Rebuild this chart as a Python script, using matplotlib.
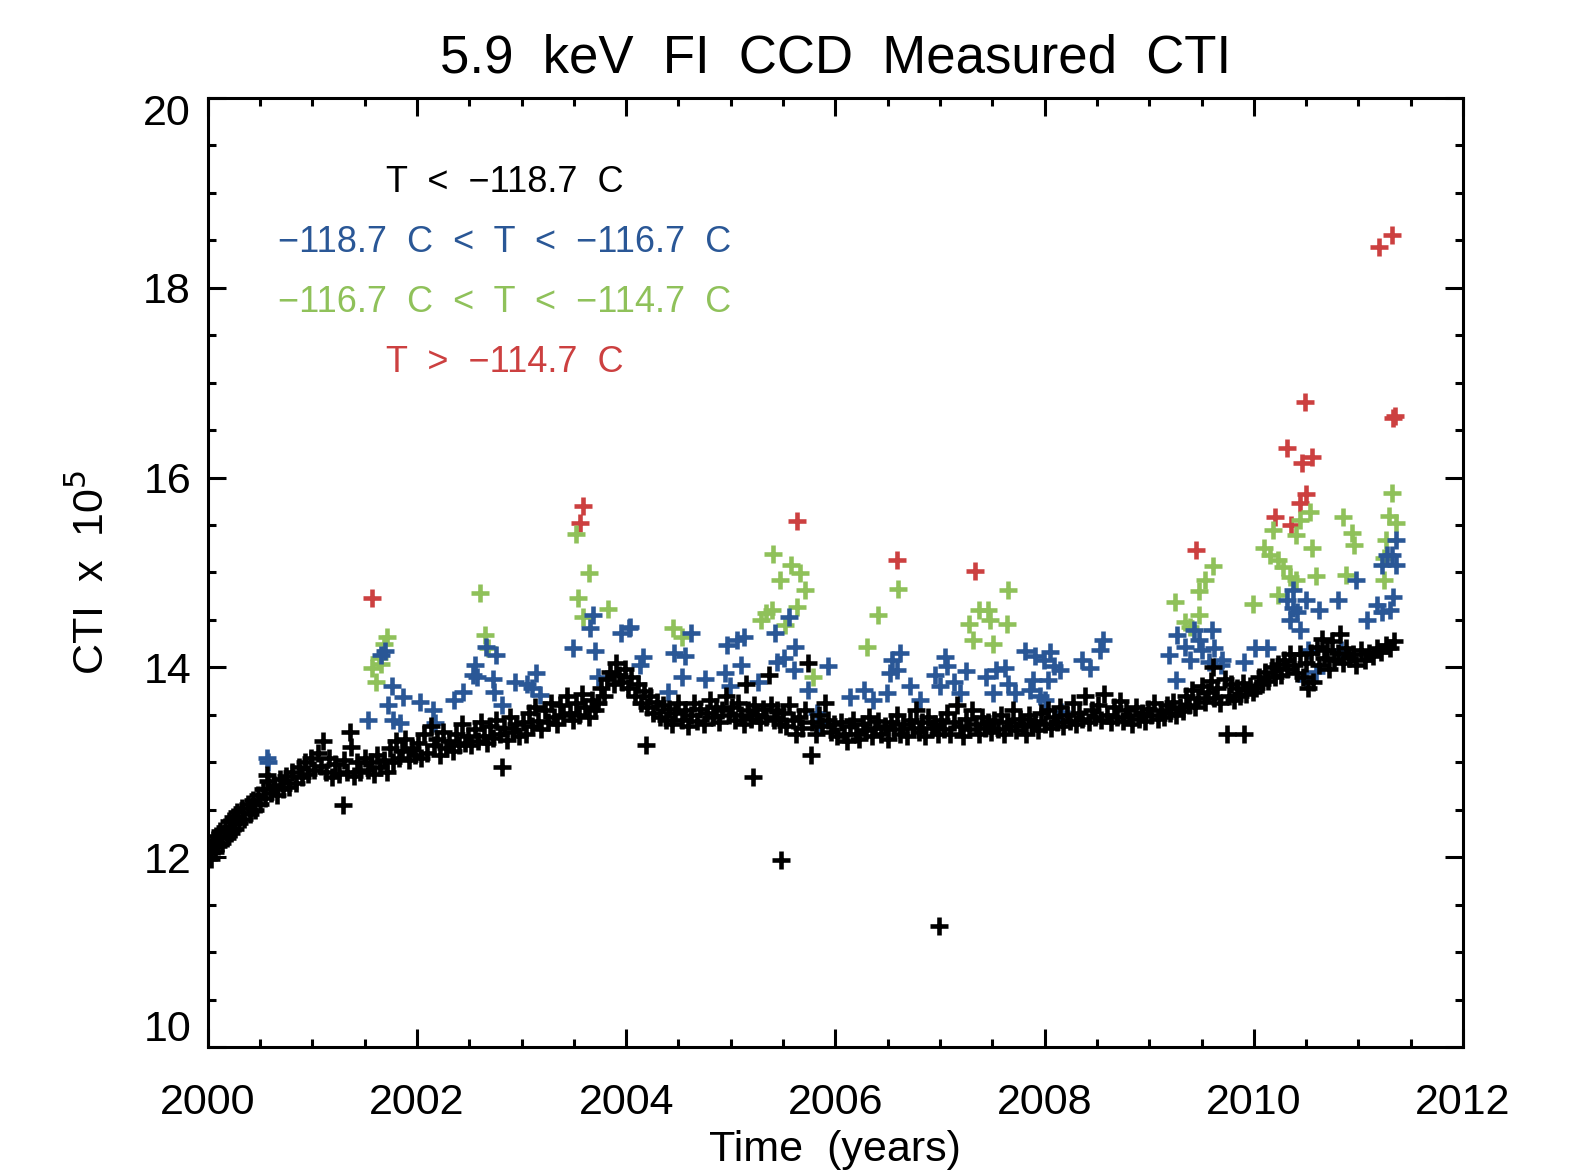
import numpy as np
import matplotlib
matplotlib.use("Agg")
import matplotlib.pyplot as plt
from matplotlib.ticker import MultipleLocator, FuncFormatter

plt.rcParams['font.family'] = ['Liberation Sans', 'DejaVu Sans']

# (year, CTI x 1e5), one list per temperature bin
black_pts = [
    (2000.00, 12.00), (2000.02, 12.10), (2000.03, 11.98), (2000.05, 12.18), (2000.07, 12.05), (2000.08, 12.22),
    (2000.10, 12.12), (2000.12, 12.28), (2000.14, 12.15), (2000.16, 12.32), (2000.18, 12.20), (2000.20, 12.38),
    (2000.22, 12.26), (2000.24, 12.42), (2000.26, 12.30), (2000.28, 12.48), (2000.30, 12.36), (2000.33, 12.52),
    (2000.35, 12.40), (2000.38, 12.56), (2000.40, 12.46), (2000.43, 12.60), (2000.45, 12.50), (2000.48, 12.66),
    (2000.50, 12.56), (2000.53, 12.72), (2000.55, 12.62), (2000.57, 12.87), (2000.58, 12.80), (2000.60, 12.68),
    (2000.63, 12.76), (2000.66, 12.66), (2000.69, 12.82), (2000.72, 12.72), (2000.75, 12.86), (2000.78, 12.74),
    (2000.81, 12.90), (2000.84, 12.78), (2000.87, 12.95), (2000.90, 12.84), (2000.93, 13.00), (2000.96, 12.88),
    (2000.99, 13.05), (2001.02, 12.92), (2001.05, 13.10), (2001.08, 12.96), (2001.10, 13.22), (2001.13, 12.90),
    (2001.16, 13.05), (2001.19, 12.85), (2001.22, 12.98), (2001.25, 12.88), (2001.29, 12.55), (2001.30, 13.02),
    (2001.33, 12.90), (2001.36, 13.32), (2001.37, 13.16), (2001.40, 12.86), (2001.43, 13.00), (2001.46, 12.90),
    (2001.50, 13.05), (2001.53, 12.92), (2001.56, 13.00), (2001.59, 12.88), (2001.62, 13.08), (2001.65, 12.95),
    (2001.68, 13.02), (2001.71, 12.90), (2001.74, 13.15), (2001.77, 13.00), (2001.80, 13.22), (2001.83, 13.05),
    (2001.86, 13.12), (2001.89, 13.25), (2001.92, 13.02), (2001.95, 13.15), (2001.98, 13.08), (2002.01, 13.20),
    (2002.04, 13.05), (2002.07, 13.30), (2002.10, 13.10), (2002.13, 13.38), (2002.16, 13.18), (2002.19, 13.25),
    (2002.22, 13.08), (2002.25, 13.32), (2002.28, 13.15), (2002.31, 13.22), (2002.34, 13.12), (2002.37, 13.30),
    (2002.40, 13.18), (2002.43, 13.40), (2002.46, 13.20), (2002.49, 13.28), (2002.52, 13.18), (2002.55, 13.35),
    (2002.58, 13.22), (2002.61, 13.42), (2002.64, 13.28), (2002.67, 13.20), (2002.70, 13.38), (2002.73, 13.26),
    (2002.76, 13.45), (2002.79, 13.30), (2002.81, 12.95), (2002.83, 13.36), (2002.86, 13.24), (2002.89, 13.48),
    (2002.92, 13.32), (2002.95, 13.40), (2002.98, 13.28), (2003.01, 13.42), (2003.04, 13.30), (2003.07, 13.52),
    (2003.10, 13.38), (2003.13, 13.58), (2003.16, 13.44), (2003.19, 13.35), (2003.22, 13.55), (2003.25, 13.42),
    (2003.28, 13.62), (2003.31, 13.48), (2003.34, 13.40), (2003.37, 13.60), (2003.40, 13.50), (2003.43, 13.70),
    (2003.46, 13.52), (2003.49, 13.45), (2003.52, 13.62), (2003.55, 13.50), (2003.58, 13.72), (2003.61, 13.58),
    (2003.64, 13.48), (2003.67, 13.66), (2003.70, 13.55), (2003.73, 13.62), (2003.76, 13.78), (2003.79, 13.70),
    (2003.82, 13.88), (2003.85, 13.95), (2003.88, 13.82), (2003.90, 14.05), (2003.93, 13.92), (2003.96, 13.85),
    (2003.99, 13.98), (2004.02, 13.78), (2004.05, 13.90), (2004.08, 13.70), (2004.11, 13.82), (2004.14, 13.62),
    (2004.17, 13.75), (2004.19, 13.18), (2004.20, 13.58), (2004.23, 13.70), (2004.26, 13.52), (2004.29, 13.64),
    (2004.32, 13.48), (2004.35, 13.60), (2004.38, 13.45), (2004.41, 13.56), (2004.44, 13.40), (2004.47, 13.52),
    (2004.50, 13.62), (2004.53, 13.45), (2004.56, 13.55), (2004.59, 13.38), (2004.62, 13.50), (2004.65, 13.62),
    (2004.68, 13.44), (2004.71, 13.56), (2004.74, 13.40), (2004.77, 13.52), (2004.80, 13.66), (2004.83, 13.48),
    (2004.86, 13.58), (2004.89, 13.42), (2004.92, 13.55), (2004.95, 13.70), (2004.98, 13.50), (2005.01, 13.58),
    (2005.04, 13.45), (2005.07, 13.62), (2005.10, 13.50), (2005.13, 13.40), (2005.15, 13.82), (2005.16, 13.55),
    (2005.19, 13.46), (2005.21, 12.85), (2005.22, 13.60), (2005.25, 13.50), (2005.28, 13.42), (2005.31, 13.56),
    (2005.34, 13.48), (2005.37, 13.92), (2005.38, 13.60), (2005.41, 13.45), (2005.44, 13.55), (2005.47, 13.40),
    (2005.48, 11.97), (2005.50, 13.52), (2005.53, 13.38), (2005.56, 13.60), (2005.59, 13.45), (2005.62, 13.30),
    (2005.65, 13.48), (2005.68, 13.36), (2005.71, 13.55), (2005.74, 14.05), (2005.77, 13.08), (2005.78, 13.42),
    (2005.81, 13.30), (2005.84, 13.50), (2005.87, 13.38), (2005.90, 13.62), (2005.93, 13.45), (2005.96, 13.32),
    (2005.99, 13.40), (2006.02, 13.28), (2006.05, 13.42), (2006.08, 13.30), (2006.11, 13.22), (2006.14, 13.38),
    (2006.17, 13.45), (2006.20, 13.30), (2006.23, 13.25), (2006.26, 13.40), (2006.29, 13.34), (2006.32, 13.48),
    (2006.35, 13.28), (2006.38, 13.36), (2006.41, 13.44), (2006.44, 13.30), (2006.47, 13.38), (2006.50, 13.25),
    (2006.53, 13.42), (2006.56, 13.35), (2006.59, 13.50), (2006.62, 13.30), (2006.65, 13.40), (2006.68, 13.28),
    (2006.71, 13.45), (2006.74, 13.36), (2006.77, 13.55), (2006.80, 13.32), (2006.83, 13.42), (2006.86, 13.28),
    (2006.89, 13.48), (2006.92, 13.36), (2006.95, 13.40), (2006.98, 13.30), (2006.99, 11.27), (2007.01, 13.45),
    (2007.04, 13.35), (2007.07, 13.52), (2007.10, 13.30), (2007.13, 13.42), (2007.16, 13.60), (2007.19, 13.38),
    (2007.22, 13.28), (2007.25, 13.46), (2007.28, 13.35), (2007.31, 13.55), (2007.34, 13.40), (2007.37, 13.30),
    (2007.40, 13.48), (2007.43, 13.36), (2007.46, 13.42), (2007.49, 13.32), (2007.52, 13.45), (2007.55, 13.35),
    (2007.58, 13.50), (2007.61, 13.30), (2007.64, 13.42), (2007.67, 13.38), (2007.70, 13.55), (2007.73, 13.34),
    (2007.76, 13.46), (2007.79, 13.40), (2007.82, 13.30), (2007.85, 13.50), (2007.88, 13.38), (2007.91, 13.44),
    (2007.94, 13.34), (2007.97, 13.52), (2008.00, 13.40), (2008.03, 13.55), (2008.06, 13.36), (2008.09, 13.48),
    (2008.12, 13.42), (2008.15, 13.58), (2008.18, 13.38), (2008.21, 13.50), (2008.24, 13.44), (2008.27, 13.62),
    (2008.30, 13.40), (2008.33, 13.52), (2008.36, 13.46), (2008.39, 13.70), (2008.42, 13.42), (2008.45, 13.55),
    (2008.48, 13.48), (2008.51, 13.60), (2008.54, 13.45), (2008.57, 13.72), (2008.60, 13.50), (2008.63, 13.42),
    (2008.66, 13.58), (2008.69, 13.48), (2008.72, 13.65), (2008.75, 13.44), (2008.78, 13.55), (2008.81, 13.50),
    (2008.84, 13.40), (2008.87, 13.58), (2008.90, 13.46), (2008.93, 13.52), (2008.96, 13.44), (2008.99, 13.56),
    (2009.02, 13.50), (2009.05, 13.62), (2009.08, 13.46), (2009.11, 13.55), (2009.14, 13.48), (2009.17, 13.60),
    (2009.20, 13.52), (2009.23, 13.64), (2009.26, 13.50), (2009.29, 13.58), (2009.32, 13.54), (2009.35, 13.70),
    (2009.38, 13.60), (2009.41, 13.76), (2009.44, 13.58), (2009.47, 13.68), (2009.50, 13.80), (2009.53, 13.64),
    (2009.56, 13.74), (2009.59, 13.86), (2009.61, 14.00), (2009.62, 13.68), (2009.65, 13.78), (2009.68, 13.62),
    (2009.72, 13.88), (2009.74, 13.30), (2009.76, 13.70), (2009.78, 13.82), (2009.81, 13.66), (2009.84, 13.78),
    (2009.87, 13.70), (2009.90, 13.84), (2009.91, 13.30), (2009.93, 13.72), (2009.96, 13.80), (2009.99, 13.74),
    (2010.02, 13.78), (2010.05, 13.90), (2010.08, 13.82), (2010.11, 13.95), (2010.14, 13.86), (2010.17, 14.00),
    (2010.20, 13.90), (2010.23, 14.04), (2010.26, 13.92), (2010.29, 14.08), (2010.32, 13.98), (2010.35, 14.14),
    (2010.38, 14.02), (2010.41, 13.94), (2010.44, 14.14), (2010.47, 13.90), (2010.50, 14.05), (2010.52, 13.78),
    (2010.55, 14.15), (2010.57, 13.85), (2010.60, 14.22), (2010.62, 14.02), (2010.65, 14.30), (2010.67, 14.10),
    (2010.70, 14.18), (2010.72, 13.98), (2010.75, 14.28), (2010.77, 14.08), (2010.80, 14.15), (2010.82, 14.35),
    (2010.85, 14.05), (2010.88, 14.20), (2010.91, 14.10), (2010.95, 14.14), (2010.98, 14.02), (2011.02, 14.18),
    (2011.06, 14.08), (2011.10, 14.15), (2011.14, 14.12), (2011.18, 14.20), (2011.22, 14.16), (2011.26, 14.24),
    (2011.30, 14.20), (2011.34, 14.28),
]

blue_pts = [
    (2000.57, 13.05), (2000.58, 13.00), (2001.53, 13.45), (2001.66, 14.13), (2001.69, 14.17), (2001.72, 13.60),
    (2001.76, 13.80), (2001.77, 13.45), (2001.84, 13.41), (2001.87, 13.69), (2002.03, 13.64), (2002.15, 13.55),
    (2002.17, 13.41), (2002.35, 13.66), (2002.44, 13.74), (2002.54, 13.92), (2002.55, 14.03), (2002.57, 13.90),
    (2002.66, 14.22), (2002.73, 13.88), (2002.74, 13.74), (2002.76, 14.13), (2002.81, 13.60), (2002.94, 13.85),
    (2003.05, 13.83), (2003.10, 13.78), (2003.14, 13.94), (2003.18, 13.71), (2003.49, 14.20), (2003.65, 14.41),
    (2003.68, 14.55), (2003.70, 14.17), (2003.73, 13.90), (2003.95, 14.36), (2004.03, 14.41), (2004.04, 14.43),
    (2004.13, 14.03), (2004.16, 14.11), (2004.40, 13.74), (2004.46, 14.15), (2004.53, 13.90), (2004.56, 14.12),
    (2004.62, 14.36), (2004.75, 13.88), (2004.94, 13.94), (2004.96, 14.24), (2004.99, 13.80), (2005.06, 14.29),
    (2005.10, 14.03), (2005.13, 14.32), (2005.26, 13.85), (2005.42, 14.36), (2005.44, 14.06), (2005.51, 14.10),
    (2005.56, 14.53), (2005.60, 13.97), (2005.61, 14.22), (2005.74, 13.76), (2005.82, 13.52), (2005.85, 13.41),
    (2005.93, 14.01), (2006.14, 13.69), (2006.27, 13.76), (2006.36, 13.66), (2006.49, 13.73), (2006.52, 13.94),
    (2006.54, 14.08), (2006.59, 13.97), (2006.62, 14.15), (2006.71, 13.80), (2006.81, 13.66), (2006.95, 13.92),
    (2007.00, 13.80), (2007.05, 14.11), (2007.07, 14.01), (2007.13, 13.85), (2007.19, 13.73), (2007.25, 13.96),
    (2007.44, 13.90), (2007.51, 13.73), (2007.54, 13.97), (2007.62, 13.99), (2007.65, 13.83), (2007.72, 13.73),
    (2007.81, 14.17), (2007.86, 13.76), (2007.89, 13.87), (2007.91, 14.12), (2007.96, 13.70), (2007.99, 14.08),
    (2008.00, 13.66), (2008.03, 13.87), (2008.05, 14.16), (2008.09, 14.01), (2008.15, 13.97), (2008.16, 13.53),
    (2008.36, 14.08), (2008.43, 13.99), (2008.53, 14.18), (2008.56, 14.29), (2009.19, 14.13), (2009.26, 13.87),
    (2009.27, 14.34), (2009.34, 14.21), (2009.39, 14.08), (2009.43, 14.39), (2009.48, 14.29), (2009.50, 14.18),
    (2009.57, 14.06), (2009.60, 14.39), (2009.62, 14.20), (2009.69, 14.03), (2009.70, 14.08), (2009.91, 14.06),
    (2010.01, 14.20), (2010.13, 14.20), (2010.32, 14.71), (2010.35, 14.50), (2010.37, 14.63), (2010.37, 14.82),
    (2010.41, 14.58), (2010.44, 14.39), (2010.50, 14.71), (2010.50, 13.87), (2010.52, 14.18), (2010.59, 13.95),
    (2010.62, 14.60), (2010.80, 14.71), (2010.83, 14.18), (2010.98, 14.92), (2011.08, 14.50), (2011.18, 14.66),
    (2011.23, 14.58), (2011.23, 15.08), (2011.27, 15.18), (2011.30, 14.60), (2011.32, 15.18), (2011.33, 14.74),
    (2011.36, 15.34), (2011.36, 15.08),
]

green_pts = [
    (2001.57, 13.99), (2001.61, 13.85), (2001.64, 14.10), (2001.66, 14.04), (2001.68, 14.25), (2001.71, 14.32),
    (2002.60, 14.78), (2002.65, 14.34), (2002.68, 14.20), (2003.52, 15.41), (2003.54, 14.73), (2003.59, 14.53),
    (2003.64, 14.99), (2003.83, 14.62), (2004.45, 14.41), (2004.53, 14.32), (2005.29, 14.50), (2005.34, 14.57),
    (2005.39, 14.60), (2005.40, 15.20), (2005.47, 14.92), (2005.52, 14.45), (2005.58, 15.08), (2005.63, 14.64),
    (2005.66, 14.99), (2005.71, 14.82), (2005.79, 13.90), (2006.30, 14.22), (2006.41, 14.55), (2006.60, 14.83),
    (2007.28, 14.46), (2007.32, 14.29), (2007.37, 14.60), (2007.46, 14.60), (2007.48, 14.50), (2007.51, 14.25),
    (2007.64, 14.46), (2007.65, 14.82), (2009.25, 14.69), (2009.34, 14.48), (2009.39, 14.43), (2009.48, 14.55),
    (2009.48, 14.81), (2009.53, 14.92), (2009.61, 15.07), (2009.99, 14.67), (2010.10, 15.26), (2010.15, 15.18),
    (2010.18, 15.45), (2010.23, 15.13), (2010.23, 14.76), (2010.28, 15.06), (2010.35, 14.95), (2010.40, 15.40),
    (2010.40, 14.92), (2010.44, 15.55), (2010.54, 15.64), (2010.56, 15.26), (2010.59, 14.96), (2010.85, 15.58),
    (2010.88, 14.97), (2010.94, 15.42), (2010.96, 15.29), (2011.24, 15.15), (2011.24, 14.92), (2011.26, 15.34),
    (2011.29, 15.60), (2011.32, 15.84), (2011.36, 15.52),
]

red_pts = [
    (2001.57, 14.73), (2003.56, 15.52), (2003.59, 15.70), (2005.63, 15.54), (2006.59, 15.13), (2007.33, 15.02),
    (2009.45, 15.24), (2010.20, 15.58), (2010.32, 16.31), (2010.36, 15.50), (2010.44, 15.73), (2010.46, 16.15),
    (2010.49, 16.80), (2010.50, 15.83), (2010.56, 16.22), (2011.20, 18.43), (2011.32, 18.56), (2011.33, 16.63),
    (2011.35, 16.65),
]

series = [
    (black_pts, 'black', 'T  <  \u2212118.7  C'),
    (blue_pts, '#2a5796', '\u2212118.7  C  <  T  <  \u2212116.7  C'),
    (green_pts, '#8fc15a', '\u2212116.7  C  <  T  <  \u2212114.7  C'),
    (red_pts, '#cc4040', 'T  >  \u2212114.7  C'),
]

fig = plt.figure(figsize=(15.74, 11.73), dpi=100)
ax = fig.add_axes([0.132, 0.1074, 0.7975, 0.8091])

# draw warmer bins first so the black band sits on top like the original
for pts, col, lab in series[::-1]:
    x, y = zip(*pts)
    ax.plot(x, y, linestyle='none', marker='+', ms=13, mew=3.3, color=col)

ax.set_xlim(2000, 2012)
ax.set_ylim(10, 20)
ax.xaxis.set_major_locator(MultipleLocator(2))
ax.xaxis.set_minor_locator(MultipleLocator(0.5))
ax.yaxis.set_major_locator(MultipleLocator(2))
ax.yaxis.set_minor_locator(MultipleLocator(0.5))
# end labels are nudged inside the frame (IDL style), drawn separately below
ax.yaxis.set_major_formatter(FuncFormatter(lambda v, p: '' if v in (10, 20) else '%d' % v))
ax.tick_params(which='both', direction='in', top=True, right=True, width=2.2, labelsize=31)
ax.tick_params(which='major', length=13)
ax.tick_params(which='minor', length=6)
ax.tick_params(axis='x', pad=26)
ax.tick_params(axis='y', pad=12)
for sp in ax.spines.values():
    sp.set_linewidth(2.2)

for v, yy in [(20, 19.83), (10, 10.18)]:
    ax.annotate('%d' % v, xy=(0, yy), xycoords=('axes fraction', 'data'), xytext=(-12, 0),
                textcoords='offset points', ha='right', va='center', fontsize=31)

# legend as coloured text lines
for i, (pts, col, lab) in enumerate(series):
    ax.text(0.2367, 0.9105 - i * 0.0632, lab, transform=ax.transAxes, color=col,
            ha='center', va='center', fontsize=26)

ax.set_title('5.9  keV  FI  CCD  Measured  CTI', fontsize=38, pad=18)
ax.set_xlabel('Time  (years)', fontsize=31, labelpad=5)
ax.set_ylabel('CTI  x  10$^5$', fontsize=31, labelpad=22)

fig.savefig('out.png', dpi=100)
